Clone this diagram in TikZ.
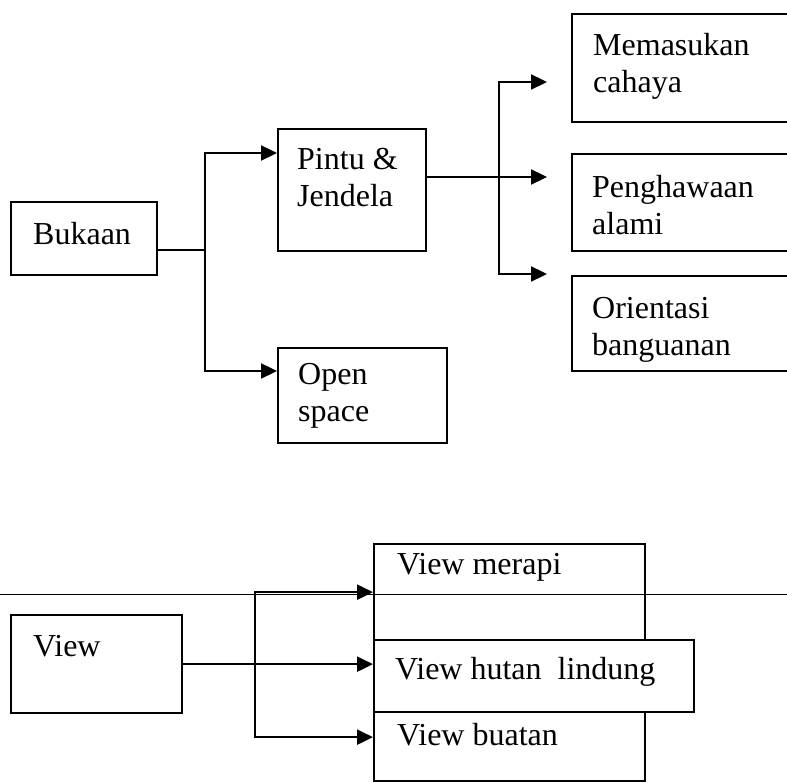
\documentclass[tikz,border=0pt]{standalone}
\usepackage{fontspec}
\setmainfont{Liberation Serif}
\usetikzlibrary{
    arrows.meta
}
\tikzset{
    >={Triangle[length=16pt,width=15pt]},
    kotak/.style={
        draw,
        line width=2.3pt,
        rectangle,
        anchor=north west,
        inner sep=0pt
    },
    isi/.style={
        anchor=north west,
        inner sep=0pt,
        align=left,
        font=\fontsize{32}{37}\selectfont
    },
    panah/.style={->, line width=2.3pt},
    garis/.style={line width=1pt}
}

\begin{document}
\begin{tikzpicture}[x=1pt, y=-1pt]
    \useasboundingbox (0,0) rectangle (787,783);

    % Kotak bagian atas
    \node[kotak, minimum width=146, minimum height=73,
        label={[isi, xshift=23, yshift=-21]north west:Bukaan}]
        (bukaan) at (10,201) {};
    \node[kotak, minimum width=148, minimum height=122,
        label={[isi, xshift=20, yshift=-20]north west:{Pintu \&\\Jendela}}]
        (pintu) at (277,128) {};
    \node[kotak, minimum width=169, minimum height=95,
        label={[isi, xshift=21, yshift=-16]north west:{Open\\space}}]
        (open) at (277,347) {};
    \node[kotak, minimum width=240, minimum height=108,
        label={[isi, xshift=22, yshift=-20]north west:{Memasukan\\cahaya}}]
        (cahaya) at (571,13) {};
    \node[kotak, minimum width=240, minimum height=97,
        label={[isi, xshift=21, yshift=-22]north west:{Penghawaan\\alami}}]
        (alami) at (571,153) {};
    \node[kotak, minimum width=240, minimum height=95,
        label={[isi, xshift=21, yshift=-22]north west:{Orientasi\\banguanan}}]
        (orientasi) at (571,275) {};

    % Ujung panah ke kanan
    \coordinate (c1) at (547,82);
    \coordinate (c2) at (547,177);
    \coordinate (c3) at (547,274);

    % Panah bagian atas
    \draw[panah] ([yshift=-49pt]bukaan.north east) -- ++(47,0)
        |- ([yshift=-25pt]pintu.north west);
    \draw[panah] ([yshift=-49pt]bukaan.north east) -- ++(47,0)
        |- ([yshift=-24pt]open.north west);
    \draw[panah] ([yshift=-49pt]pintu.north east) -- (c2);
    \draw[panah] ([yshift=-49pt]pintu.north east) -- ++(72,0) |- (c1);
    \draw[panah] ([yshift=-49pt]pintu.north east) -- ++(72,0) |- (c3);

    % Garis tipis
    \coordinate (g1) at (0,594);
    \coordinate (g2) at (787,594);
    \draw[garis] (g1) -- (g2);

    % Kotak bagian bawah
    \node[kotak, minimum width=171, minimum height=98,
        label={[isi, xshift=23, yshift=-21]north west:View}]
        (view) at (10,614) {};
    \node[kotak, minimum width=271, minimum height=96,
        label={[isi, xshift=24, yshift=-10]north west:View merapi}]
        (merapi) at (373,543) {};
    \node[kotak, minimum width=271, minimum height=69,
        label={[isi, xshift=24, yshift=-12]north west:View buatan}]
        (buatan) at (373,711) {};
    \node[kotak, fill=white, minimum width=320, minimum height=72,
        label={[isi, xshift=22, yshift=-18]north west:View hutan~ lindung}]
        (hutan) at (373,639) {};

    % Panah bagian bawah
    \draw[panah] (view.east) -- (view.east -| hutan.west);
    \draw[panah] (view.east) -- ++(72,0) |- (merapi.west);
    \draw[panah] (view.east) -- ++(72,0) |- ([yshift=9.5pt]buatan.west);

\end{tikzpicture}
\end{document}
